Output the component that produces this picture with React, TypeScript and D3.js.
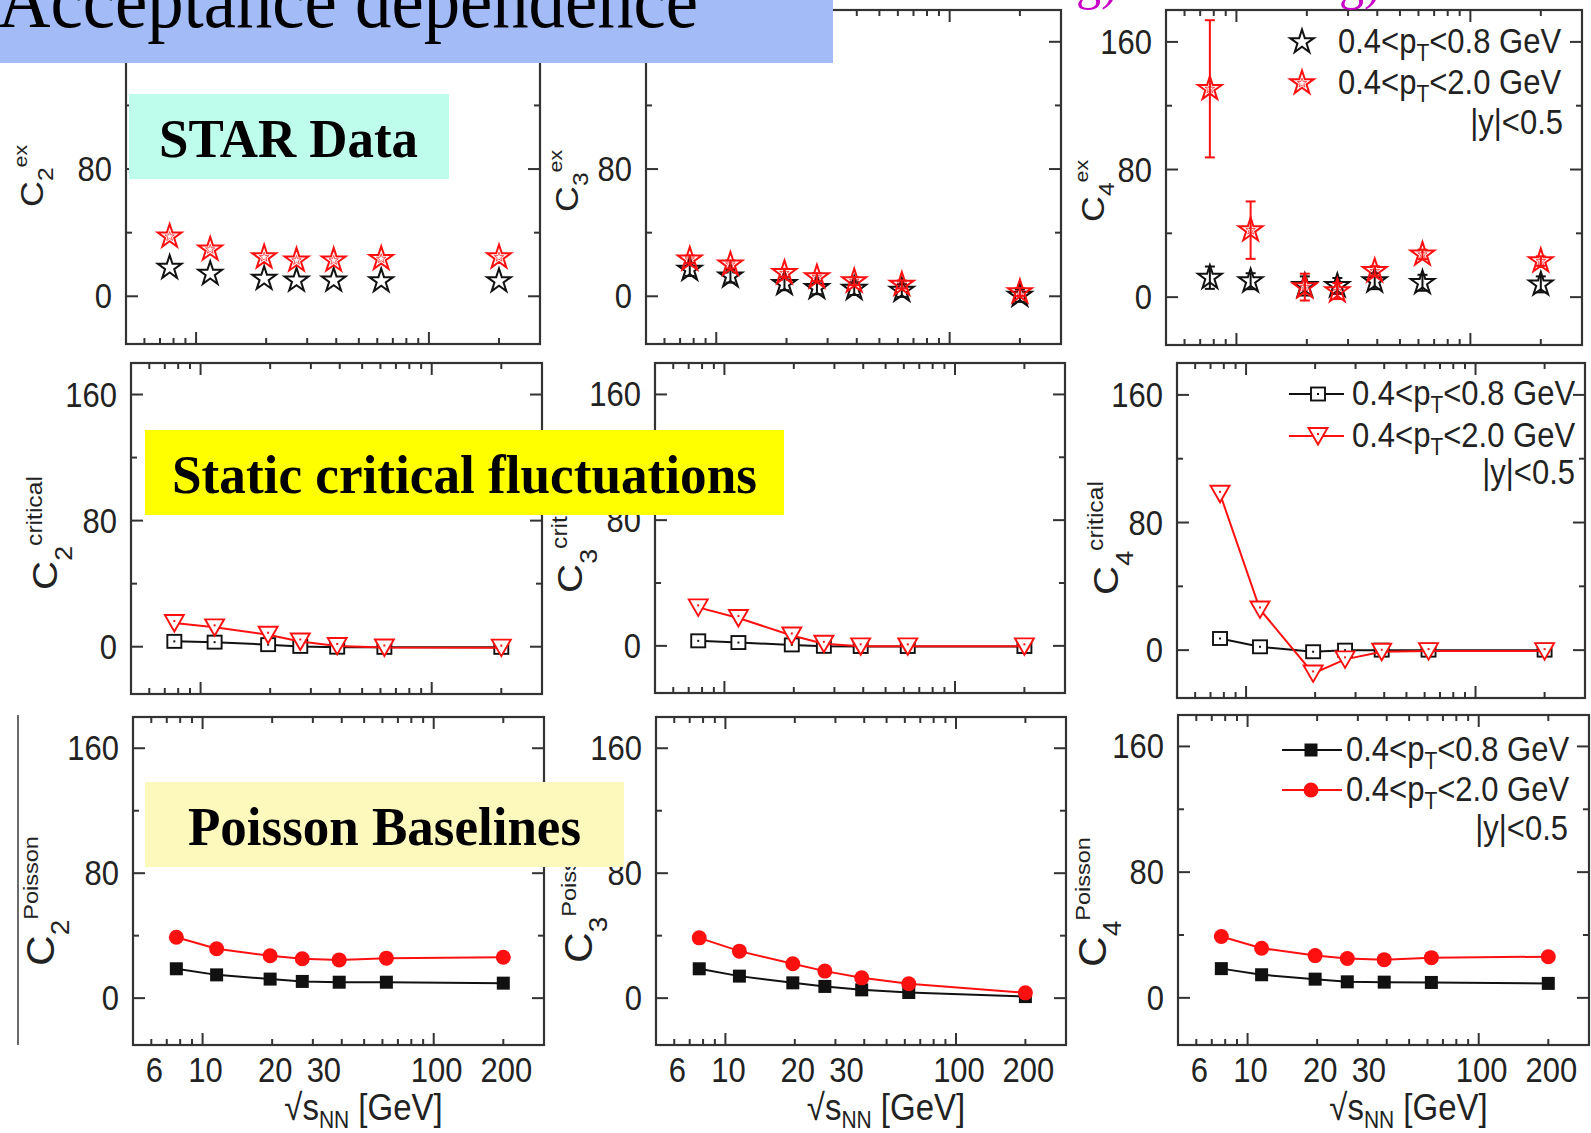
import React from "react";
import * as d3 from "d3";

// ---------------- data ----------------
const energies = [7.7, 11.5, 19.6, 27, 39, 62.4, 200];

// STAR data (C^ex)
const c2exLow = [18.0, 14.2, 11.1, 10.0, 10.0, 9.6, 9.6];
const c2exHigh = [37.6, 29.5, 24.6, 22.6, 22.6, 23.6, 24.6];
const c3exLow = [16.8, 12.6, 7.8, 5.3, 4.8, 3.6, 0.5];
const c3exLowErr = [4, 4, 4, 4, 4, 4, 4];
const c3exHigh = [23.2, 20.0, 14.7, 12.0, 9.5, 7.4, 2.7];
const c3exHighErr = [2.5, 2.5, 2.5, 2.5, 2.5, 2.5, 2.5];
const c4exLow = [12.2, 10.0, 7.0, 7.0, 10.0, 9.0, 8.0];
const c4exLowErr = [7, 5, 6, 5, 5, 5, 5];
const c4exHigh = [130.6, 42.0, 6.3, 3.8, 16.4, 26.8, 22.6];
const c4exHighErr = [43, 18, 8.4, 5, 3, 3, 3];

// Static critical fluctuations
const c2critLow = [3.4, 2.9, 1.3, 0.2, -0.3, -0.4, -0.4];
const c2critHigh = [15.0, 12.3, 7.6, 3.3, 0.5, -0.5, -0.6];
const c3critLow = [3.2, 2.1, 0.6, -0.3, -0.4, -0.4, -0.4];
const c3critHigh = [24.5, 17.7, 6.6, 1.3, -0.3, -0.3, -0.3];
const c4critLow = [7.3, 2.1, -1.0, 0, 0, 0, 0];
const c4critHigh = [98, 25.5, -14.6, -5.8, -1.0, -0.6, -0.6];

// Poisson baselines
const c2poiLow = [18.8, 14.9, 12.2, 10.7, 10.2, 10.2, 9.6];
const c2poiHigh = [39.0, 31.6, 27.1, 25.2, 24.5, 25.6, 26.2];
const c3poiLow = [18.8, 14.1, 9.8, 7.5, 5.3, 3.6, 1.0];
const c3poiHigh = [38.6, 30.1, 22.0, 17.3, 13.0, 9.2, 3.4];
const c4poiLow = [18.6, 14.7, 11.9, 10.2, 10.0, 9.8, 9.2];
const c4poiHigh = [39.0, 31.6, 26.9, 25.0, 24.3, 25.6, 26.2];

// axes
const yDomain = [-30, 180];
const xDomain = [5, 300];
const yMajorTicks = [0, 80, 160];
const yMinorTicks = [40, 120];
const xMajorTicks = [10, 100];
const xMinorTicks = [6, 7, 8, 9, 20, 30, 40, 50, 60, 70, 80, 90, 200];
const xTickLabels = [6, 10, 20, 30, 100, 200];

// texts
const legendLow = ["0.4<p", "T", "<0.8 GeV"];
const legendHigh = ["0.4<p", "T", "<2.0 GeV"];
const rapidityText = "|y|<0.5";
const titleText = "Acceptance dependence";
const boxTexts = ["STAR Data", "Static critical fluctuations", "Poisson Baselines"];
const yLabelSups = ["ex", "critical", "Poisson"];
const yLabelSubs = ["2", "3", "4"];

// ---------------- styles ----------------
const W = 1591;
const H = 1133;
const RED = "#ff1010";
const BLACK = "#111";
const AX = "#333";
const SANS = "'Liberation Sans', Arial, Helvetica, sans-serif";
const SERIF = "'Liberation Serif', 'Times New Roman', serif";
const STRETCH = 1.12;
const TITLE_BOX = { w: 833, h: 63 };

function SText({ x, y, anchor = "start", size = 31, fill = "#222", children, family = SANS, weight = "normal" }: any) {
  return (
    <text
      transform={`translate(${x},${y}) scale(1,${STRETCH})`}
      textAnchor={anchor}
      fontSize={size}
      fill={fill}
      fontFamily={family}
      fontWeight={weight}
    >
      {children}
    </text>
  );
}

function starPath(r: number) {
  return d3.symbol().type(d3.symbolStar).size((r * r) / 0.8908130915292852)() as string;
}

function Marker({ type, cx, cy, color }: any) {
  switch (type) {
    case "star":
      return (
        <g transform={`translate(${cx},${cy})`}>
          <path d={starPath(12.5)} fill="none" stroke={color} strokeWidth={2} strokeLinejoin="miter" />
          {color === RED ? <path d={starPath(5)} fill="none" stroke={color} strokeWidth={1} opacity={0.7} /> : null}
        </g>
      );
    case "squareOpen":
      return (
        <g>
          <rect x={cx - 7} y={cy - 6.5} width={14} height={13} fill="#fff" stroke={color} strokeWidth={1.9} />
          <rect x={cx - 1} y={cy - 1} width={2} height={2} fill={color} />
        </g>
      );
    case "triDown":
      return (
        <g>
          <path
            d={`M${cx - 9.5},${cy - 8} L${cx + 9.5},${cy - 8} L${cx},${cy + 8.5} Z`}
            fill="#fff"
            stroke={color}
            strokeWidth={1.9}
          />
          <rect x={cx - 1} y={cy - 3} width={2} height={2} fill={color} />
        </g>
      );
    case "squareFilled":
      return <rect x={cx - 6.5} y={cy - 6.5} width={13} height={13} fill={color} />;
    case "circle":
      return <circle cx={cx} cy={cy} r={7.5} fill={color} />;
    default:
      return null;
  }
}

function Panel({ rect, series, ylab, showX, legend }: any) {
  const x = d3.scaleLog().domain(xDomain).range([rect.x0, rect.x1]);
  const y = d3.scaleLinear().domain(yDomain).range([rect.y1, rect.y0]);
  const line = d3
    .line<number>()
    .x((_, i) => x(energies[i]))
    .y((d) => y(d));
  const MAJ = 12;
  const MIN = 6;
  const hiddenByTitle = (px: number, py: number) => px < TITLE_BOX.w && py < TITLE_BOX.h + 5;
  return (
    <g>
      {/* frame */}
      <rect
        x={rect.x0}
        y={rect.y0}
        width={rect.x1 - rect.x0}
        height={rect.y1 - rect.y0}
        fill="none"
        stroke={AX}
        strokeWidth={2.2}
      />
      {/* y ticks */}
      {yMajorTicks.map((t) => (
        <g key={"ym" + t}>
          <line x1={rect.x0} x2={rect.x0 + MAJ} y1={y(t)} y2={y(t)} stroke={AX} strokeWidth={2} />
          <line x1={rect.x1 - MAJ} x2={rect.x1} y1={y(t)} y2={y(t)} stroke={AX} strokeWidth={2} />
          {hiddenByTitle(rect.x0 - 14, y(t)) ? null : (
            <SText x={rect.x0 - 14} y={y(t) + 12} anchor="end">
              {t}
            </SText>
          )}
        </g>
      ))}
      {yMinorTicks.map((t) => (
        <g key={"yn" + t}>
          <line x1={rect.x0} x2={rect.x0 + MIN} y1={y(t)} y2={y(t)} stroke={AX} strokeWidth={2} />
          <line x1={rect.x1 - MIN} x2={rect.x1} y1={y(t)} y2={y(t)} stroke={AX} strokeWidth={2} />
        </g>
      ))}
      {/* x ticks */}
      {xMajorTicks.map((t) => (
        <g key={"xm" + t}>
          <line x1={x(t)} x2={x(t)} y1={rect.y1} y2={rect.y1 - MAJ} stroke={AX} strokeWidth={2} />
          <line x1={x(t)} x2={x(t)} y1={rect.y0} y2={rect.y0 + MAJ} stroke={AX} strokeWidth={2} />
        </g>
      ))}
      {xMinorTicks.map((t) => (
        <g key={"xn" + t}>
          <line x1={x(t)} x2={x(t)} y1={rect.y1} y2={rect.y1 - MIN} stroke={AX} strokeWidth={2} />
          <line x1={x(t)} x2={x(t)} y1={rect.y0} y2={rect.y0 + MIN} stroke={AX} strokeWidth={2} />
        </g>
      ))}
      {showX
        ? xTickLabels.map((t) => (
            <SText key={"xl" + t} x={x(t) + 3 + (t === 30 ? 8 : 0)} y={rect.y1 + 37} anchor="middle">
              {t}
            </SText>
          ))
        : null}
      {showX ? (
        <SText x={(rect.x0 + rect.x1) / 2 + 25} y={rect.y1 + 75} anchor="middle" size={33}>
          <tspan>√s</tspan>
          <tspan fontSize={21} dy={7}>
            NN
          </tspan>
          <tspan dy={-7}> [GeV]</tspan>
        </SText>
      ) : null}
      {/* y label */}
      <text
        transform={`translate(${ylab.bx},${ylab.by}) scale(1,${STRETCH}) rotate(-90)`}
        fontFamily={SANS}
        fill="#222"
        fontSize={ylab.size}
      >
        <tspan>C</tspan>
        <tspan fontSize={ylab.subSize} dy={ylab.subDy}>
          {ylab.sub}
        </tspan>
        <tspan fontSize={ylab.supSize} dy={ylab.supDy}>
          {ylab.sup}
        </tspan>
      </text>
      {/* series */}
      {series.map((s: any, si: number) => (
        <g key={"s" + si}>
          {s.line ? <path d={line(s.values) as string} fill="none" stroke={s.color} strokeWidth={2} /> : null}
          {s.errors
            ? s.values.map((v: number, i: number) => {
                const e = s.errors[i];
                const cx = x(energies[i]);
                return (
                  <g key={"e" + i} stroke={s.color} strokeWidth={2}>
                    <line x1={cx} x2={cx} y1={y(v - e)} y2={y(v + e)} />
                    <line x1={cx - 5} x2={cx + 5} y1={y(v - e)} y2={y(v - e)} />
                    <line x1={cx - 5} x2={cx + 5} y1={y(v + e)} y2={y(v + e)} />
                  </g>
                );
              })
            : null}
          {s.values.map((v: number, i: number) => (
            <Marker key={"m" + i} type={s.marker} cx={x(energies[i])} cy={y(v)} color={s.color} />
          ))}
        </g>
      ))}
      {legend ? <Legend {...legend} /> : null}
    </g>
  );
}

function LegendLabel({ x, y, parts }: any) {
  return (
    <SText x={x} y={y}>
      <tspan>{parts[0]}</tspan>
      <tspan fontSize={21} dy={7}>
        {parts[1]}
      </tspan>
      <tspan dy={-7}>{parts[2]}</tspan>
    </SText>
  );
}

function Legend({ kind, markers, lineX0, lineX1, markX, textX, rows, yRight, yRightX }: any) {
  return (
    <g>
      {[legendLow, legendHigh].map((parts, i) => {
        const cy = rows[i];
        const color = i === 0 ? BLACK : RED;
        return (
          <g key={"lg" + i}>
            {kind === "line" ? <line x1={lineX0} x2={lineX1} y1={cy} y2={cy} stroke={color} strokeWidth={2} /> : null}
            <Marker type={markers[i]} cx={markX} cy={cy} color={color} />
            <LegendLabel x={textX} y={cy + 11} parts={parts} />
          </g>
        );
      })}
      <SText x={yRightX} y={yRight + 12} anchor="end">
        {rapidityText}
      </SText>
    </g>
  );
}

export default function App() {
  const rowLab = [
    { size: 32, subSize: 22, supSize: 19, subDy: 10, supDy: -26 },
    { size: 36, subSize: 24, supSize: 22, subDy: 15, supDy: -30 },
    { size: 38, subSize: 25, supSize: 21, subDy: 15, supDy: -31 },
  ];
  const lab = (row: number, col: number, bx: number, by: number) => ({
    ...rowLab[row],
    bx,
    by,
    sub: yLabelSubs[col],
    sup: yLabelSups[row],
  });

  const star = (values: number[], color: string, errors?: number[]) => ({ values, color, errors, marker: "star", line: false });
  const ln = (values: number[], color: string, marker: string) => ({ values, color, marker, line: true });

  const panels = [
    {
      rect: { x0: 126, x1: 540, y0: 10, y1: 344 },
      ylab: lab(0, 0, 43, 207),
      series: [star(c2exLow, BLACK), star(c2exHigh, RED)],
    },
    {
      rect: { x0: 646, x1: 1061, y0: 10, y1: 344 },
      ylab: lab(0, 1, 578, 212),
      series: [star(c3exLow, BLACK, c3exLowErr), star(c3exHigh, RED, c3exHighErr)],
    },
    {
      rect: { x0: 1166, x1: 1582, y0: 10, y1: 345 },
      ylab: lab(0, 2, 1104, 222),
      series: [star(c4exLow, BLACK, c4exLowErr), star(c4exHigh, RED, c4exHighErr)],
      legend: {
        kind: "marker",
        markers: ["star", "star"],
        markX: 1302,
        textX: 1338,
        rows: [42, 83],
        yRight: 122,
        yRightX: 1563,
      },
    },
    {
      rect: { x0: 131, x1: 542, y0: 363, y1: 694 },
      ylab: lab(1, 0, 57, 590),
      series: [ln(c2critLow, BLACK, "squareOpen"), ln(c2critHigh, RED, "triDown")],
    },
    {
      rect: { x0: 655, x1: 1065, y0: 363, y1: 693 },
      ylab: lab(1, 1, 582, 593),
      series: [ln(c3critLow, BLACK, "squareOpen"), ln(c3critHigh, RED, "triDown")],
    },
    {
      rect: { x0: 1177, x1: 1585, y0: 363, y1: 698 },
      ylab: lab(1, 2, 1118, 595),
      series: [ln(c4critLow, BLACK, "squareOpen"), ln(c4critHigh, RED, "triDown")],
      legend: {
        kind: "line",
        markers: ["squareOpen", "triDown"],
        lineX0: 1289,
        lineX1: 1344,
        markX: 1318,
        textX: 1352,
        rows: [394, 436],
        yRight: 472,
        yRightX: 1575,
      },
    },
    {
      rect: { x0: 133, x1: 544, y0: 717, y1: 1045 },
      ylab: lab(2, 0, 54, 966),
      series: [ln(c2poiLow, BLACK, "squareFilled"), ln(c2poiHigh, RED, "circle")],
      showX: true,
    },
    {
      rect: { x0: 656, x1: 1066, y0: 717, y1: 1045 },
      ylab: lab(2, 1, 592, 963),
      series: [ln(c3poiLow, BLACK, "squareFilled"), ln(c3poiHigh, RED, "circle")],
      showX: true,
    },
    {
      rect: { x0: 1178, x1: 1589, y0: 715, y1: 1045 },
      ylab: lab(2, 2, 1106, 967),
      series: [ln(c4poiLow, BLACK, "squareFilled"), ln(c4poiHigh, RED, "circle")],
      showX: true,
      legend: {
        kind: "line",
        markers: ["squareFilled", "circle"],
        lineX0: 1282,
        lineX1: 1342,
        markX: 1311,
        textX: 1346,
        rows: [750, 790],
        yRight: 828,
        yRightX: 1568,
      },
    },
  ];

  return (
    <svg
      width={W}
      height={H}
      viewBox={`0 0 ${W} ${H}`}
      style={{ position: "fixed", left: 0, top: 0, display: "block", background: "#fff" }}
    >
      <rect width={W} height={H} fill="#fff" />
      {panels.map((p, i) => (
        <Panel key={i} {...p} />
      ))}
      {/* stray frame edge at the far left */}
      <line x1={18} x2={18} y1={715} y2={1045} stroke="#444" strokeWidth={1.6} />

      {/* title */}
      <rect x={0} y={0} width={TITLE_BOX.w} height={TITLE_BOX.h} fill="#a3bbf6" />
      <text
        x={-2}
        y={27}
        fontFamily={SERIF}
        fontSize={80}
        fill="#000"
        textLength={700}
        lengthAdjust="spacingAndGlyphs"
      >
        {titleText}
      </text>

      {/* magenta fragments cut at top */}
      <text x={1076} y={-1} fontFamily={SERIF} fontSize={50} fill="#c800c8">
        g)
      </text>
      <text x={1339} y={-1} fontFamily={SERIF} fontSize={50} fill="#c800c8">
        g)
      </text>

      {/* overlay boxes */}
      <rect x={129} y={94} width={320} height={85} fill="#befcec" />
      <text x={159} y={157} fontFamily={SERIF} fontWeight="bold" fontSize={54} textLength={259} lengthAdjust="spacingAndGlyphs">
        {boxTexts[0]}
      </text>

      <rect x={145} y={430} width={639} height={85} fill="#ffff00" />
      <text x={172} y={493} fontFamily={SERIF} fontWeight="bold" fontSize={54} textLength={585} lengthAdjust="spacingAndGlyphs">
        {boxTexts[1]}
      </text>

      <rect x={145} y={782} width={479} height={85} fill="#fdf8bc" />
      <text x={188} y={845} fontFamily={SERIF} fontWeight="bold" fontSize={54} textLength={393} lengthAdjust="spacingAndGlyphs">
        {boxTexts[2]}
      </text>
    </svg>
  );
}
